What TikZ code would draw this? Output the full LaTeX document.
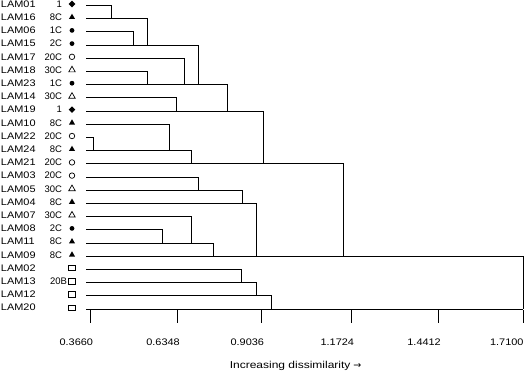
\documentclass[tikz,border=0pt]{standalone}
\usepackage{fontspec}
\usepackage{graphicx}
\setmainfont{Liberation Sans}
\newfontfamily\arrowfont{DejaVu Sans}
\newcommand\wdtxt[1]{\scalebox{1.15}[1]{#1}}
\usetikzlibrary{shapes.geometric}
\begin{document}
\begin{tikzpicture}[x=1pt,y=-1pt,line width=1pt,
  lab/.style={inner sep=0pt,font=\fontsize{9.5}{11}\selectfont},
  dia/.style={diamond,fill=black,inner sep=0pt,minimum width=7pt,minimum height=7pt},
  trif/.style={regular polygon,regular polygon sides=3,fill=black,inner sep=0pt,minimum size=7pt},
  trio/.style={regular polygon,regular polygon sides=3,draw=black,line width=0.7pt,inner sep=0pt,minimum size=7.5pt},
  dotf/.style={circle,fill=black,inner sep=0pt,minimum size=4.8pt},
  circo/.style={circle,draw=black,line width=0.7pt,inner sep=0pt,minimum size=5.5pt},
  sqo/.style={rectangle,draw=black,line width=0.7pt,inner sep=0pt,minimum width=6.5pt,minimum height=5.5pt}]
\useasboundingbox (0,0) rectangle (524,373);
% row coordinates
\foreach \i/\h in {0/111.7,1/147.7,2/133.3,3/198.3,4/184.3,5/147.7,6/227.3,7/176.7,
  8/263.3,9/169.3,10/93.3,11/191,12/343.7,13/198.3,14/242.3,15/256.3,16/191.3,
  17/162.3,18/213.3,19/523.3,20/241.3,21/256.3,22/271.3,23/523.3}{
  \pgfmathsetmacro\yy{5.5+13.2*\i}
  \coordinate (s\i) at (86,\yy);
  \coordinate (e\i) at (\h,\yy);
}
% dendrogram branches
\foreach \i/\j in {0/1,1/3,2/3,3/6,4/6,5/6,6/8,7/8,8/12,9/11,10/11,11/12,12/19,
  13/14,14/15,15/19,16/18,17/18,18/19,19/23,20/21,21/22,22/23}{
  \draw (s\i) -- (e\i) -- (e\i |- s\j);
}
\draw (s23) -- (e23);
% leaf labels
\foreach \i/\nm/\grp/\sym in {0/LAM01/1/dia,1/LAM16/8C/trif,2/LAM06/1C/dotf,3/LAM15/2C/dotf,
  4/LAM17/20C/circo,5/LAM18/30C/trio,6/LAM23/1C/dotf,7/LAM14/30C/trio,8/LAM19/1/dia,
  9/LAM10/8C/trif,10/LAM22/20C/circo,11/LAM24/8C/trif,12/LAM21/20C/circo,13/LAM03/20C/circo,
  14/LAM05/30C/trio,15/LAM04/8C/trif,16/LAM07/30C/trio,17/LAM08/2C/dotf,18/LAM11/8C/trif,
  19/LAM09/8C/trif,20/LAM02/{}/sqo,21/LAM13/{}/sqo,22/LAM12/{}/sqo,23/LAM20/{}/sqo}{
  \pgfmathsetmacro\yy{4+13.2*\i}
  \node[lab,anchor=west] (n\i) at (0.5,\yy) {\wdtxt{\nm}};
  \node[lab,anchor=east] (g\i) at (62.5,\yy) {\grp};
  \node[\sym] (m\i) at (72,\yy) {};
}
\node[lab,anchor=east] (g21b) at (67.5,{4+13.2*21}) {20B};
% axis ticks and labels
\foreach \x/\t/\lx [count=\k] in {90.5/0.3660/93.5,177.3/0.6348/180.3,261.5/0.9036/264.5,351.5/1.1724/354.5,438.3/1.4412/441.3,523.3/1.7100/524}{
  \coordinate (t\k) at (\x,310.1);
  \coordinate (tb\k) at (\x,323);
  \draw (t\k) -- (tb\k);
  \node[lab,anchor=east] (tl\k) at (\lx,342) {\wdtxt{\t}};
}
\node[lab,font=\fontsize{10}{12}\selectfont] (title) at (295.5,365.5) {\scalebox{1.2}[1]{Increasing dissimilarity} {\arrowfont\fontsize{9.5}{11}\selectfont →}};
\end{tikzpicture}
\end{document}
